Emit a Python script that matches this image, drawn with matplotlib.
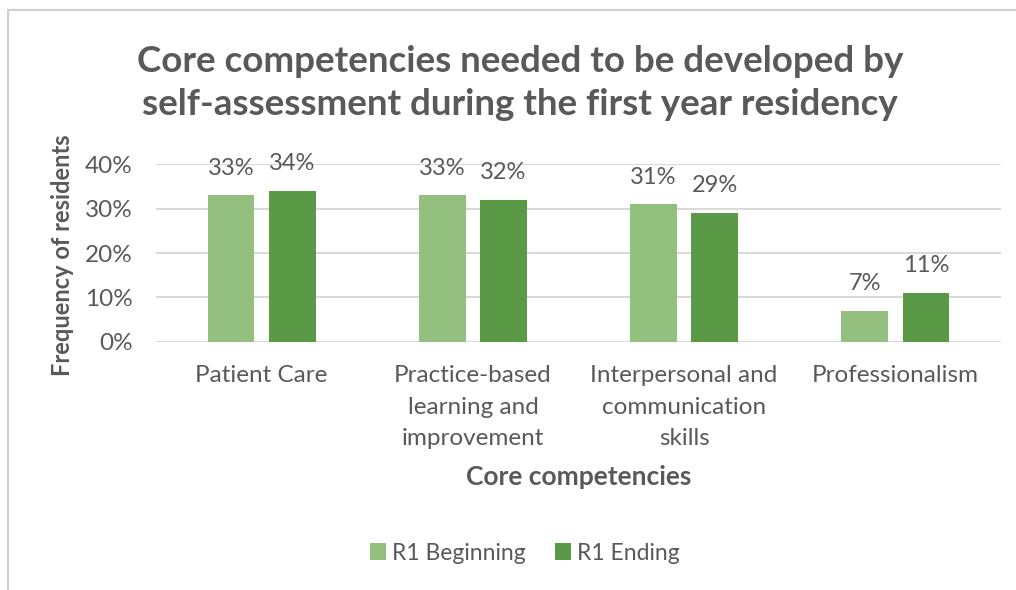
import matplotlib
matplotlib.use("Agg")
import matplotlib.pyplot as plt
import numpy as np
from matplotlib.patches import Rectangle
from matplotlib.ticker import PercentFormatter

categories = ["Patient Care", "Practice-based\nlearning and\nimprovement",
              "Interpersonal and\ncommunication\nskills", "Professionalism"]
r1_beginning = [33, 33, 31, 7]
r1_ending = [34, 32, 29, 11]
series_names = ["R1 Beginning", "R1 Ending"]

TEXT = "#595959"
LIGHT = "#93C07F"
DARK = "#5A9A46"

plt.rcParams["font.family"] = ["Lato", "DejaVu Sans"]

fig = plt.figure(figsize=(10.16, 5.90), dpi=100)
# thin grey frame of the chart area (cut off at right and bottom)
fig.patches.append(Rectangle((8 / 1016, -0.1), 1.2, (1 - 10 / 590) + 0.1,
                             transform=fig.transFigure, fill=False,
                             edgecolor="#d0d0d0", linewidth=1.5))

ax = fig.add_axes([156 / 1016, 1 - 341.7 / 590, 845 / 1016, 177.4 / 590])

x = np.arange(len(categories))
width = 0.222
off = 0.145
b1 = ax.bar(x - off, r1_beginning, width, color=LIGHT, label=series_names[0], zorder=3)
b2 = ax.bar(x + off, r1_ending, width, color=DARK, label=series_names[1], zorder=3)

for bars in (b1, b2):
    for rect in bars:
        h = rect.get_height()
        ax.annotate(f"{h:.0f}%", (rect.get_x() + rect.get_width() / 2, h),
                    xytext=(0, 12), textcoords="offset points",
                    ha="center", va="bottom", fontsize=17, color=TEXT)

ax.set_xlim(-0.5, len(categories) - 0.5)
ax.set_ylim(0, 40)
ax.set_yticks([0, 10, 20, 30, 40])
ax.yaxis.set_major_formatter(PercentFormatter(decimals=0))
ax.set_xticks(x)
ax.set_xticklabels(categories)
for t in ax.get_xticklabels():
    t.set_linespacing(1.6)
ax.tick_params(axis="both", length=0, labelsize=17.5, labelcolor=TEXT)
ax.tick_params(axis="y", pad=17)
ax.tick_params(axis="x", pad=17)
ax.grid(axis="y", color="#d9d9d9", linewidth=1.5, zorder=0)
for s in ax.spines.values():
    s.set_visible(False)

ax.set_xlabel("Core competencies", fontsize=19, fontweight="bold", color=TEXT, labelpad=12)
ax.set_ylabel("Frequency of residents", fontsize=17, fontweight="bold", color=TEXT,
              va="center")
ax.yaxis.set_label_coords((62 - 156) / 845, 0.49)

fig.text(520 / 1016, 1 - 83 / 590,
         "Core competencies needed to be developed by\nself-assessment during the first year residency",
         ha="center", va="center", fontsize=26.5, fontweight="bold", color=TEXT, linespacing=1.4)

fig.legend(handles=[b1, b2], labels=series_names, loc="center",
           bbox_to_anchor=(525 / 1016, 1 - 553 / 590), ncol=2, frameon=False,
           fontsize=16.5, labelcolor=TEXT, handlelength=0.7, handleheight=0.7,
           columnspacing=1.3, handletextpad=0.25)

fig.savefig("out.png", dpi=100)
